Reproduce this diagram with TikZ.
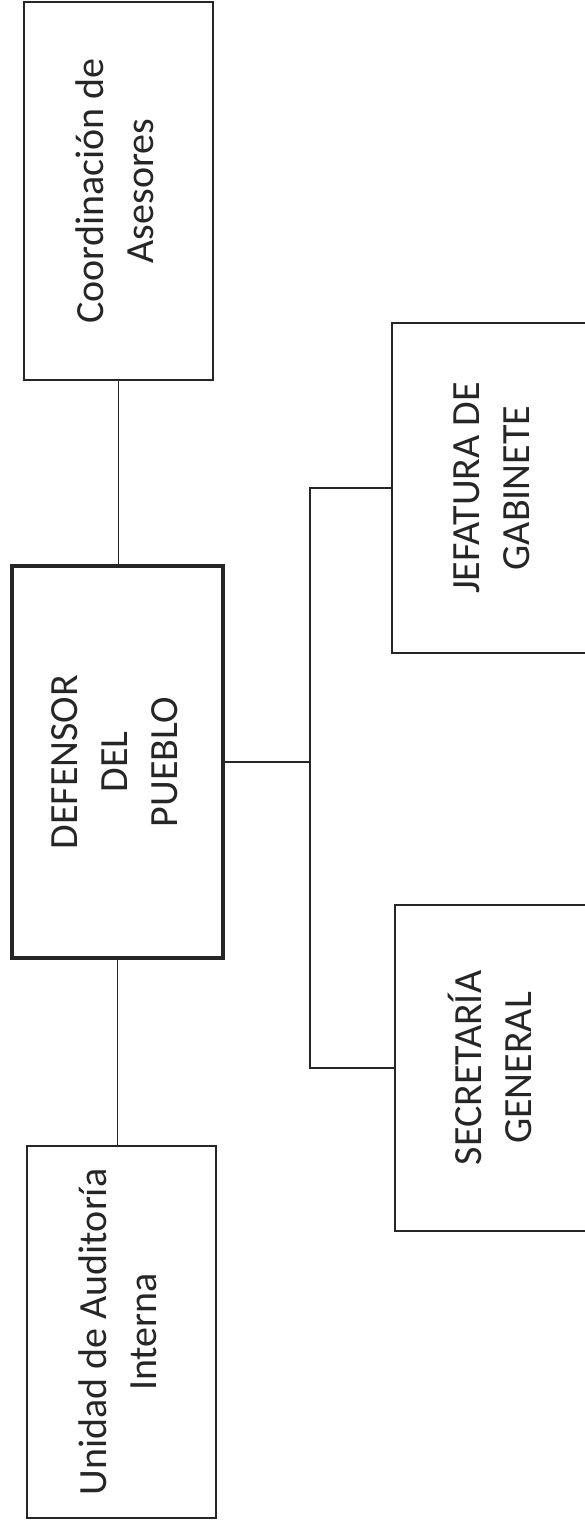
\documentclass[tikz,border=0pt]{standalone}
\usepackage{fontspec}
\setmainfont{Carlito}
\usepackage{xcolor}
\usepackage{graphicx}

\newcommand{\vlabel}[1]{\rotatebox{90}{\begin{tabular}{@{}c@{}}#1\end{tabular}}}

\begin{document}
\begin{tikzpicture}[x=1pt,y=-1pt,line width=1.6pt,draw=black!85,
  unitbox/.style={draw,rectangle,inner sep=0pt,outer sep=0pt,
    font=\fontsize{40}{50}\selectfont,text=black!85},
  headbox/.style={unitbox,line width=4.8pt}]

\useasboundingbox (0,0) rectangle (585,1521);

% 1
\node[unitbox,minimum width=189pt,minimum height=378pt] (UnitCoordinacion) at (118.5,191) {\vlabel{Coordinación de\\Asesores}};

\node[headbox,minimum width=211pt,minimum height=392pt] (UnitDefensor) at (117.5,762) {\vlabel{DEFENSOR\\DEL\\PUEBLO}};

\node[unitbox,minimum width=189pt,minimum height=372pt] (UnitAuditoria) at (121.5,1332) {\vlabel{Unidad de Auditoría\\Interna}};

% 2
\node[unitbox,minimum width=204pt,minimum height=330pt] (UnitJefatura) at (494,488) {\vlabel{JEFATURA DE\\GABINETE}};

\node[unitbox,minimum width=202pt,minimum height=326pt] (UnitSecretaria) at (496,1068) {\vlabel{SECRETARÍA\\GENERAL}};


\draw (UnitCoordinacion.south) -- (UnitCoordinacion.south |- UnitDefensor.north);
\draw (UnitDefensor.south) -- (UnitDefensor.south |- UnitAuditoria.north);

\draw (UnitDefensor.east) -- ++(87,0) coordinate (BusPoint);
\draw (UnitJefatura.west) -| (BusPoint) |- (UnitSecretaria.west);

\end{tikzpicture}
\end{document}
